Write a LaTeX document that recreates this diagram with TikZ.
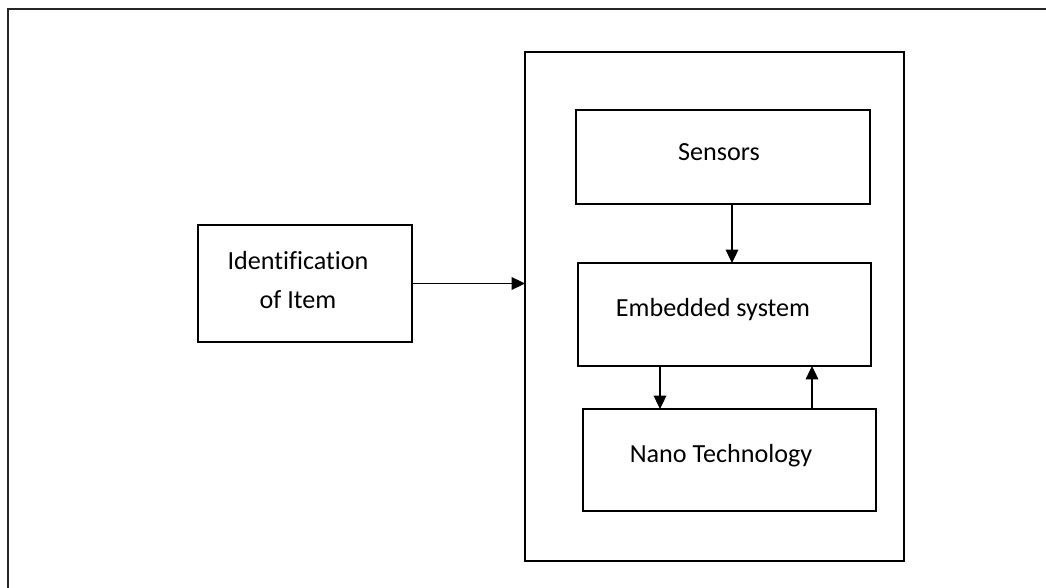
\documentclass[tikz,border=0pt]{standalone}
\usepackage{fontspec}
\setmainfont{Carlito}[Ligatures=CommonOff]
\usetikzlibrary{arrows.meta}

\begin{document}
\begin{tikzpicture}[x=0.75pt,y=-0.75pt,
  box/.style={draw,line width=1.6pt,rectangle,inner sep=0pt,outer sep=0pt},
  lbl/.style={font=\fontsize{19.6}{29}\selectfont,align=center},
  flow/.style={line width=0.8pt,-{Triangle[length=10pt,width=9.5pt]}}]
  \useasboundingbox (0,0) rectangle (1046,588);
  \clip (0,0) rectangle (1046,588);
  % page frame (runs off the right and bottom edges)
  \draw[line width=1.6pt,black!85] (8,9) rectangle (1070,610);
  % boxes
  \node[box,minimum width=160.5pt,minimum height=87.75pt] (ident) at (305,283.5) {};
  \node[box,minimum width=284.25pt,minimum height=381.75pt] (sys) at (714.5,306.5) {};
  \node[box,minimum width=220.5pt,minimum height=70.5pt] (sens) at (723,157) {};
  \node[box,minimum width=219.75pt,minimum height=77.25pt] (emb) at (724.5,314.5) {};
  \node[box,minimum width=219.75pt,minimum height=76.5pt] (nano) at (729.5,460) {};
  % texts
  \node[lbl] (identT) at (298,280) {Identification\\of Item};
  \node[lbl] (sensT) at (719,152) {Sensors};
  \node[lbl] (embT) at (713,310) {Embedded system};
  \node[lbl] (nanoT) at (721,456) {Nano Technology};
  % connectors
  \coordinate (xa) at (732,0);
  \coordinate (xb) at (660,0);
  \coordinate (xc) at (812,0);
  \draw[flow] (ident.east) -- (ident.east -| sys.west);
  \draw[flow] (sens.south -| xa) -- (emb.north -| xa);
  \draw[flow] (emb.south -| xb) -- (nano.north -| xb);
  \draw[flow] (nano.north -| xc) -- (emb.south -| xc);
\end{tikzpicture}
\end{document}
